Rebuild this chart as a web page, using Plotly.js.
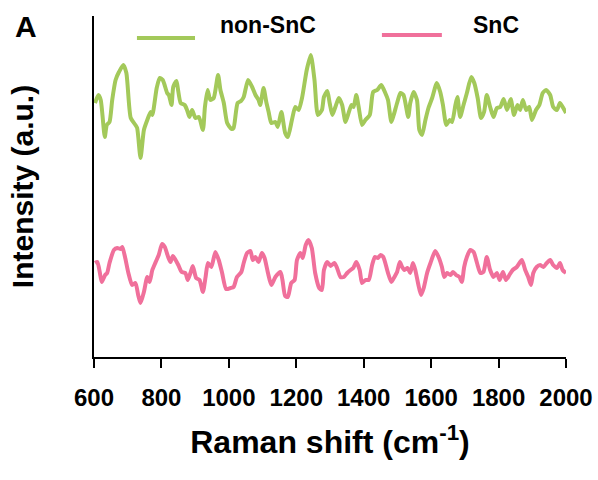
<!DOCTYPE html>
<html>
<head>
<meta charset="utf-8">
<script src="https://cdn.plot.ly/plotly-3.0.1.min.js"></script>
<style>html,body{margin:0;padding:0;background:#fff;}#chart{width:598px;height:480px;}</style>
</head>
<body>
<div id="chart"></div>
<script>
// Raman shift (cm^-1) and intensity (a.u.)
var nonSnC_x = [603,613,620,632,638,646,654,664,674,687,696,709,723,728,738,748,758,768,773,786,795,804,817,822,830,835,844,857,869,876,883,891,901,911,923,929,937,945,955,968,975,985,995,1008,1014,1026,1036,1044,1057,1069,1079,1088,1093,1103,1111,1118,1126,1138,1145,1156,1167,1175,1187,1197,1207,1217,1231,1243,1254,1264,1276,
1282,1292,1299,1307,1316,1326,1336,1346,1356,1364,1370,1378,1385,1395,1405,1418,1428,1440,1452,1464,1472,1482,1489,1499,1509,1518,1532,1538,1548,1558,1565,1573,1583,1592,1603,1617,1627,1635,1645,1655,1662,1672,1678,1686,1696,1706,1719,1728,1738,1748,1757,1765,1775,1785,1795,1805,1815,1825,1836,1846,1856,1864,1872,1882,1891,1899,1911,1921,1931,1941,1953,1962,1973,1982,1992,2000];
var nonSnC_y = [254,262,257,220,232,235,257,277,285,292,284,239,232,229,199,227,237,245,242,269,279,277,264,262,252,270,276,254,252,247,240,247,239,240,227,250,267,257,259,282,267,254,234,228,229,254,256,260,277,270,262,257,252,269,255,245,234,235,230,245,224,220,237,250,247,259,287,302,277,242,247,
260,266,254,242,250,259,252,235,245,252,250,262,250,232,237,242,265,267,272,264,257,235,242,254,264,262,240,254,265,257,227,222,237,249,259,274,265,252,232,237,235,252,260,240,252,264,280,274,259,239,245,262,250,240,249,250,258,247,258,242,252,247,257,247,250,237,247,252,264,267,262,250,247,254,249,244];
var SnC_x = [603,610,617,623,633,639,646,659,669,679,684,692,702,713,723,731,738,748,758,765,773,783,792,802,810,820,827,834,842,850,860,871,878,886,893,903,913,923,931,938,948,960,970,980,992,1005,1014,1024,1037,1044,1054,1064,1071,1079,1088,1098,1106,1116,1126,1138,1153,1159,1167,1175,1185,1195,1202,1212,1219,1228,1236,1246,1256,1268,1276,
1282,1292,1302,1313,1321,1331,1341,1351,1361,1369,1378,1388,1395,1405,1415,1425,1433,1442,1450,1458,1464,1472,1482,1491,1499,1507,1514,1521,1530,1538,1546,1553,1561,1570,1578,1588,1598,1612,1622,1632,1639,1647,1657,1665,1674,1684,1691,1698,1706,1716,1726,1736,1746,1755,1765,1775,1785,1795,1803,1813,1822,1832,1842,1854,1869,1879,1888,1896,1903,1913,1923,1933,1943,1953,1962,1973,1982,1990,2000];
var SnC_y = [94,95,85,75,82,84,94,107,109,108,110,100,84,72,74,62,54,65,80,75,87,95,102,113,110,100,95,101,97,92,85,84,77,84,91,79,77,65,80,94,90,105,97,84,68,69,70,80,85,94,104,106,97,100,95,104,99,84,72,80,85,77,61,60,74,77,97,104,99,112,117,109,84,69,67,
87,95,91,94,89,80,80,84,87,89,95,87,74,77,77,92,100,99,102,100,94,84,75,80,85,95,90,87,89,84,94,87,74,62,69,84,94,106,100,90,80,84,82,85,82,80,75,90,100,107,105,94,84,85,100,87,80,84,77,85,77,82,87,90,97,87,80,72,84,90,92,90,94,97,92,89,94,87,84];
var seriesNames = ["non-SnC", "SnC"];
var xTicks = [600,800,1000,1200,1400,1600,1800,2000];

var green = "#A3C95A", pink = "#F0709B";
var fontFam = "Liberation Sans, Arial, sans-serif";

var traces = [
  {x: nonSnC_x, y: nonSnC_y, type: "scatter", mode: "lines", name: seriesNames[0],
   line: {color: green, width: 4, shape: "spline", smoothing: 0.6}, showlegend: false},
  {x: SnC_x, y: SnC_y, type: "scatter", mode: "lines", name: seriesNames[1],
   line: {color: pink, width: 4, shape: "spline", smoothing: 0.6}, showlegend: false}
];

var layout = {
  width: 598, height: 480,
  margin: {l: 94, r: 32, t: 16, b: 123, pad: 0},
  paper_bgcolor: "#fff", plot_bgcolor: "#fff",
  font: {family: fontFam, color: "#000"},
  xaxis: {
    range: [600, 2000], tickvals: xTicks, ticktext: xTicks.map(String),
    showline: true, linecolor: "#000", linewidth: 2, mirror: false,
    ticks: "outside", ticklen: 9, tickwidth: 2, tickcolor: "#000",
    ticklabelstandoff: 9,
    tickfont: {family: fontFam, size: 24, weight: "bold", color: "#000"},
    showgrid: false, zeroline: false,
    title: {text: "Raman shift (cm<sup>-1</sup>)", font: {family: fontFam, size: 32, weight: "bold", color: "#000"}, standoff: 21}
  },
  yaxis: {
    range: [0, 341], showline: true, linecolor: "#000", linewidth: 2,
    ticks: "", showticklabels: false, showgrid: false, zeroline: false,
    title: {text: "Intensity (a.u.)", font: {family: fontFam, size: 30, weight: "bold", color: "#000"}, standoff: 50}
  },
  shapes: [
    {type: "line", xref: "paper", yref: "paper", x0: 0.091, x1: 0.214, y0: 0.9355, y1: 0.9355, line: {color: green, width: 4}},
    {type: "line", xref: "paper", yref: "paper", x0: 0.610, x1: 0.737, y0: 0.944, y1: 0.944, line: {color: pink, width: 4}}
  ],
  annotations: [
    {text: seriesNames[0], xref: "paper", yref: "paper", x: 0.2627, y: 0.9736, xanchor: "left", yanchor: "middle", showarrow: false,
     font: {family: fontFam, size: 23, weight: "bold", color: "#000"}},
    {text: seriesNames[1], xref: "paper", yref: "paper", x: 0.7987, y: 0.9736, xanchor: "left", yanchor: "middle", showarrow: false,
     font: {family: fontFam, size: 23, weight: "bold", color: "#000"}},
    {text: "A", xref: "paper", yref: "paper", x: -0.172, y: 1.022, xanchor: "left", yanchor: "top", showarrow: false,
     font: {family: fontFam, size: 30, weight: "bold", color: "#000"}}
  ]
};

Plotly.newPlot("chart", traces, layout, {displayModeBar: false, staticPlot: true});
</script>
</body>
</html>
